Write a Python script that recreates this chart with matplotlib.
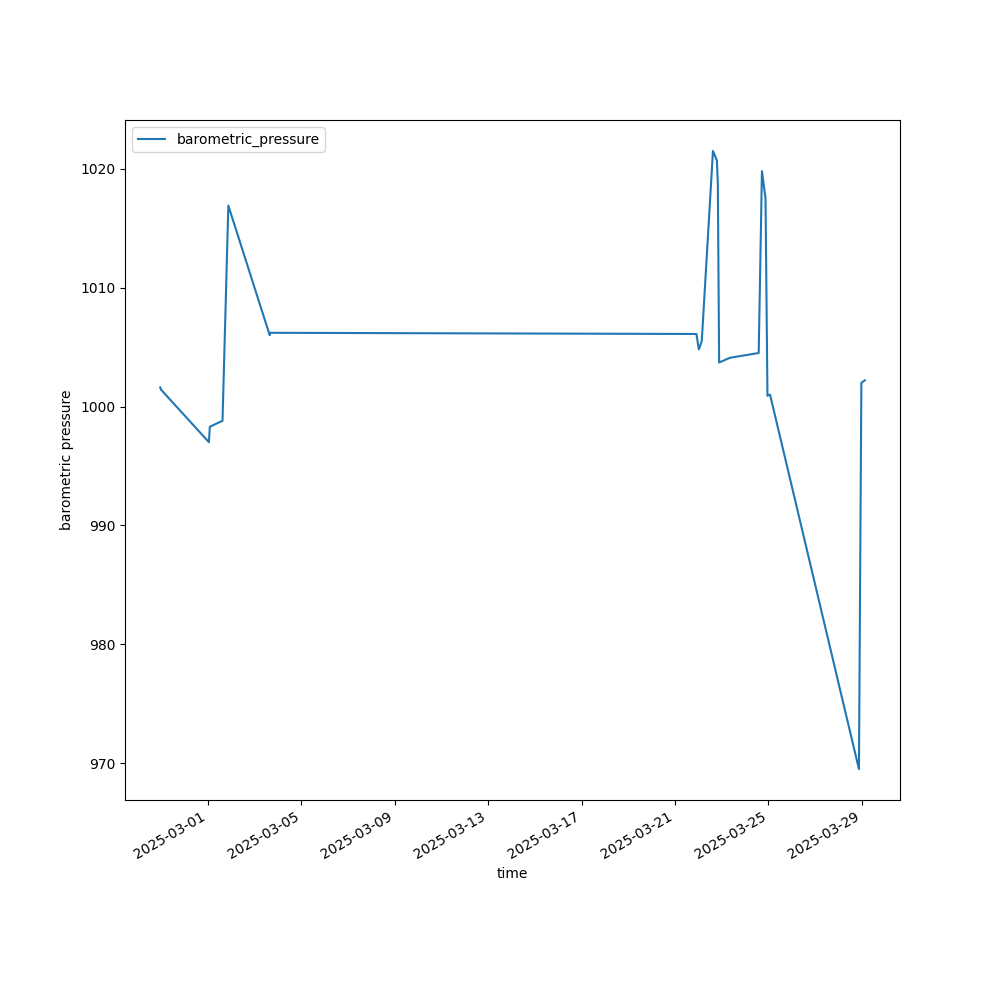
import pandas as pd
import matplotlib
matplotlib.use("Agg")
import matplotlib.pyplot as plt

# readings
time = [
    "2025-02-26 23:00", "2025-02-27 00:00", "2025-03-01 01:00", "2025-03-01 02:00",
    "2025-03-01 15:00", "2025-03-01 21:00", "2025-03-03 15:30", "2025-03-03 16:00",
    "2025-03-21 22:00", "2025-03-22 00:30", "2025-03-22 03:30", "2025-03-22 15:00",
    "2025-03-22 19:00", "2025-03-22 20:00", "2025-03-22 21:20", "2025-03-23 08:30",
    "2025-03-24 14:00", "2025-03-24 17:20", "2025-03-24 21:00", "2025-03-24 23:00",
    "2025-03-25 01:40", "2025-03-28 21:00", "2025-03-28 23:30", "2025-03-29 03:00",
]
barometric_pressure = [
    1001.6, 1001.4, 997.0, 998.3,
    998.8, 1016.9, 1006.0, 1006.2,
    1006.1, 1004.8, 1005.5, 1021.5,
    1020.7, 1018.8, 1003.7, 1004.1,
    1004.5, 1019.8, 1017.5, 1000.9,
    1001.0, 969.5, 1002.0, 1002.2,
]

df = pd.DataFrame({"time": pd.to_datetime(time),
                   "barometric_pressure": barometric_pressure}).set_index("time")

fig, ax = plt.subplots(figsize=(10, 10), dpi=100)
ax.plot(df.index, df["barometric_pressure"], label="barometric_pressure")
ax.set_xlabel("time")
ax.set_ylabel("barometric pressure")
ax.legend(loc="upper left")
fig.autofmt_xdate()

fig.savefig("out.png")
